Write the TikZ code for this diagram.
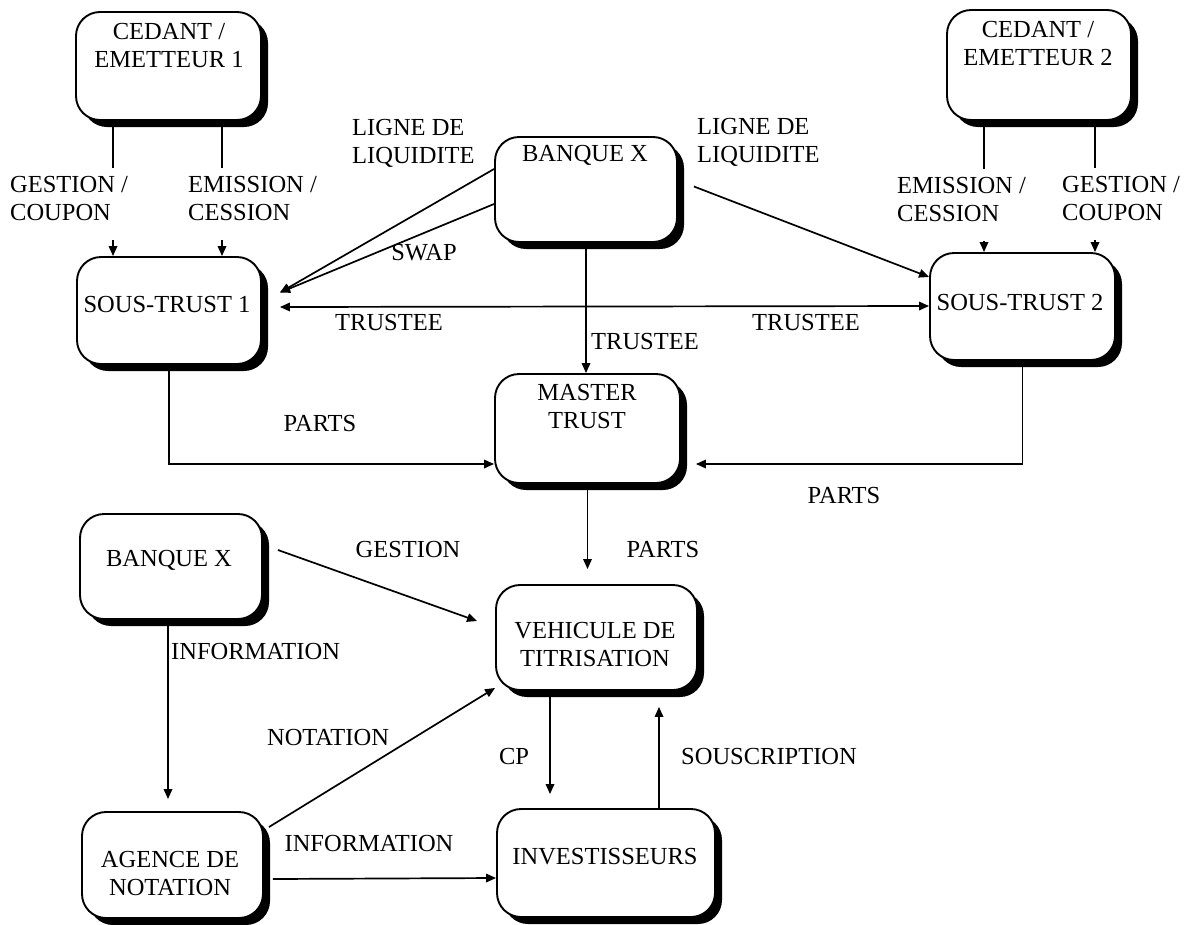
\documentclass[tikz,border=0pt]{standalone}
\usepackage{fontspec}
\setmainfont{Liberation Serif}
\usetikzlibrary{arrows.meta,shadows,calc}
\begin{document}
\begin{tikzpicture}[x=1pt,y=-1pt,
  box/.style={draw=black, line width=1.9pt, rounded corners=24pt, fill=white, inner sep=0pt,
    drop shadow={shadow xshift=7pt, shadow yshift=-7pt, opacity=1, fill=black}},
  txt/.style={font=\fontsize{24.5}{28}\selectfont, inner sep=0pt, align=center},
  gaplbl/.style={txt, align=left, anchor=west, inner ysep=9pt},
  conn/.style={line width=1.7pt},
  arr/.style={conn, -{Triangle[length=10pt,width=8.5pt]}},
  darr/.style={conn, {Triangle[length=10pt,width=8.5pt]}-{Triangle[length=10pt,width=8.5pt]}},
]
\useasboundingbox[fill=white] (0,0) rectangle (1189,924);

% boxes
\node[box, minimum width=185pt, minimum height=108pt] (ced1) at (168.5,66) {};
\node[box, minimum width=184pt, minimum height=110pt] (ced2) at (1039,65) {};
\node[box, minimum width=182pt, minimum height=105pt] (bqT) at (586,189.5) {};
\node[box, minimum width=184pt, minimum height=107pt] (st1) at (169,310.5) {};
\node[box, minimum width=185pt, minimum height=107pt] (st2) at (1022.5,306.5) {};
\node[box, minimum width=185pt, minimum height=109pt] (master) at (587.5,428.5) {};
\node[box, minimum width=182pt, minimum height=105pt] (bqB) at (171,566.5) {};
\node[box, minimum width=201pt, minimum height=105pt] (veh) at (596.5,637.5) {};
\node[box, minimum width=181pt, minimum height=106pt] (agence) at (172.5,865) {};
\node[box, minimum width=218pt, minimum height=108pt] (invest) at (606,863) {};

% box texts
\node[txt] (tced1) at (169,46) {CEDANT /\\EMETTEUR 1};
\node[txt] (tced2) at (1038,44) {CEDANT /\\EMETTEUR 2};
\node[txt] (tbqT) at (585,155) {BANQUE X};
\node[txt] (tst1) at (167,305) {SOUS-TRUST 1};
\node[txt] (tst2) at (1020,303) {SOUS-TRUST 2};
\node[txt] (tmaster) at (587,407) {MASTER\\TRUST};
\node[txt] (tbqB) at (169,560) {BANQUE X};
\node[txt] (tveh) at (595,644) {VEHICULE DE\\TITRISATION};
\node[txt] (tagence) at (170,873) {AGENCE DE\\NOTATION};
\node[txt] (tinvest) at (605,857) {INVESTISSEURS};

% labels with gaps
\node[gaplbl] (lgc1) at (10,199) {GESTION /\\COUPON};
\node[gaplbl] (lec1) at (188,199) {EMISSION /\\CESSION};
\node[gaplbl] (lec2) at (897,200) {EMISSION /\\CESSION};
\node[gaplbl] (lgc2) at (1062,199) {GESTION /\\COUPON};

% other labels
\node[txt, align=left, anchor=west] (lliq1) at (352,143) {LIGNE DE\\LIQUIDITE};
\node[txt, align=left, anchor=west] (lliq2) at (697,142) {LIGNE DE\\LIQUIDITE};
\node[txt] (lswap) at (424,253) {SWAP};
\node[txt] (ltr1) at (389,323) {TRUSTEE};
\node[txt] (ltr2) at (806,323) {TRUSTEE};
\node[txt, anchor=west] (ltr3) at (591,342) {TRUSTEE};
\node[txt] (lparts1) at (320,424) {PARTS};
\node[txt] (lparts2) at (844,496) {PARTS};
\node[txt] (lparts3) at (663,550) {PARTS};
\node[txt] (lgest) at (408,550) {GESTION};
\node[txt, anchor=west] (linfo1) at (171,651) {INFORMATION};
\node[txt] (lnot) at (328,737) {NOTATION};
\node[txt] (linfo2) at (369,843) {INFORMATION};
\node[txt] (lcp) at (514,756) {CP};
\node[txt] (lsousc) at (769,756) {SOUSCRIPTION};

% cedant 1 -> sous-trust 1
\draw[conn] (ced1.south -| 113,0) -- (lgc1.north -| 113,0);
\draw[arr] ($(lgc1.south -| 113,0)+(0,10)$) -- (st1.north -| 113,0);
\draw[conn] (ced1.south -| 222,0) -- (lec1.north -| 222,0);
\draw[arr] ($(lec1.south -| 222,0)+(0,10)$) -- (st1.north -| 222,0);
% cedant 2 -> sous-trust 2
\draw[conn] (ced2.south -| 984,0) -- (lec2.north -| 984,0);
\draw[arr] ($(lec2.south -| 984,0)+(0,10)$) -- (st2.north -| 984,0);
\draw[conn] (ced2.south -| 1095,0) -- (lgc2.north -| 1095,0);
\draw[arr] ($(lgc2.south -| 1095,0)+(0,10)$) -- (st2.north -| 1095,0);

% banque X (top) -> sous-trusts
\draw[arr] ([yshift=20.5pt]bqT.west) -- ([xshift=18pt,yshift=18pt]st1.east);
\draw[arr] ([yshift=-14.5pt]bqT.west) -- ([xshift=18pt,yshift=18pt]st1.east);
\draw[arr] ([xshift=16pt,yshift=3pt]bqT.east) -- ([yshift=29.5pt]st2.west);
% trustee double arrow
\draw[darr] ([xshift=18pt,yshift=3.5pt]st1.east) -- ([yshift=0.5pt]st2.west);
% banque X -> master trust
\draw[arr] (bqT.south) -- (bqT.south |- master.north);

% parts to master
\draw[arr] (st1.south) |- ([yshift=-35.5pt]master.west);
\draw[arr] (st2.south) |- ([xshift=15pt,yshift=-35.5pt]master.east);
% master -> vehicule
\draw[arr] (master.south) -- ($(master.south |- veh.north)+(0,-15)$);

% banque X (bottom)
\draw[arr] ([xshift=15pt,yshift=16.5pt]bqB.east) -- ([xshift=-18pt,yshift=16.5pt]veh.west);
\draw[arr] (bqB.south -| 168,0) -- ($(agence.north -| 168,0)+(0,-12)$);

% agence
\draw[arr] ([xshift=5pt,yshift=-16pt]agence.north east) -- ([yshift=3pt]veh.south west);
\draw[arr] ([xshift=9pt,yshift=-14pt]agence.east) -- ([yshift=-15pt]invest.west);

% vehicule / investisseurs
\draw[arr] (veh.south -| 550,0) -- ($(invest.north -| 550,0)+(0,-14)$);
\draw[arr] (invest.north -| 659,0) -- ($(veh.south -| 659,0)+(0,16)$);
\end{tikzpicture}
\end{document}
